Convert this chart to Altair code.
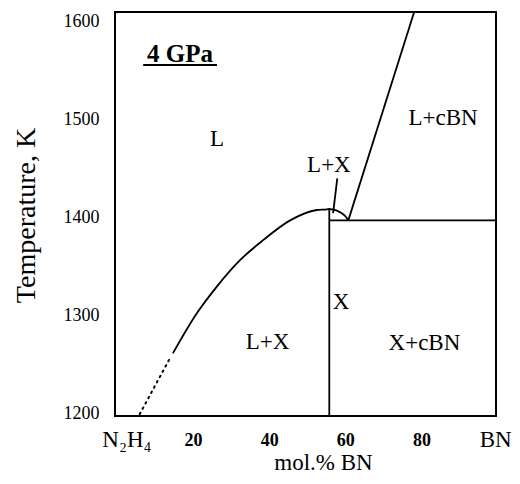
import altair as alt
import pandas as pd

# liquidus curve (solid part), mol.% BN vs temperature K
liq_x = [14.7, 21.0, 26.2, 32.4, 38.5, 45.5, 52.5, 55.2, 55.8, 56.5, 57.8, 59.1, 60.0, 60.8]
liq_t = [1261, 1302, 1329, 1356.5, 1377, 1397, 1407.6, 1408.3, 1408.6, 1408.3, 1407, 1404.2, 1401.4, 1397]
# dotted extrapolation
dot_x = [6.0, 14.0]
dot_t = [1199, 1256.5]

# straight phase boundaries: vertical X line, eutectic horizontal, cBN liquidus, leader
seg_x1 = [55.8, 55.8, 60.8, 57.9]
seg_t1 = [1197, 1397, 1397, 1440]
seg_x2 = [55.8, 99.6, 78.1, 56.8]
seg_t2 = [1408.6, 1397, 1610, 1404.5]

# region labels
lab_text = ["L", "L+X", "L+cBN", "L+X", "X", "X+cBN"]
lab_x = [26.3, 55.7, 85.7, 39.6, 58.9, 80.8]
lab_t = [1480.6, 1453.5, 1502, 1273, 1313.6, 1272]

# pressure label and its underline
p_text = ["4 GPa"]
p_x = [16.6]
p_t = [1567]
ul_x1 = [6.9]
ul_x2 = [26.3]
ul_t = [1555.7]

# axis end labels
end_text = ["N\u2082H\u2084", "BN"]
end_x = [2.65, 99.5]
end_t = [1172, 1172]

x_ticks = [20, 40, 60, 80]
y_ticks = [1200, 1300, 1400, 1500, 1600]

FONT = "Liberation Serif"

xscale = alt.Scale(domain=[-0.5, 99.6], nice=False, zero=False)
yscale = alt.Scale(domain=[1197, 1610], nice=False, zero=False)
xaxis = alt.Axis(values=x_ticks, format="d", grid=False, ticks=False, domain=False,
                 labelFont=FONT, labelFontSize=18, labelFontWeight="bold",
                 labelPadding=15, labelColor="black",
                 title="mol.% BN", titleFont=FONT, titleFontSize=23,
                 titleFontWeight="normal", titleColor="black",
                 titleX=208, titleY=53, titleAlign="center", titleBaseline="alphabetic")
yaxis = alt.Axis(values=y_ticks, format="d", grid=False, ticks=False, domain=False,
                 labelFont=FONT, labelFontSize=18, labelPadding=16, labelColor="black",
                 title="Temperature, K", titleFont=FONT, titleFontSize=28,
                 titleFontWeight="normal", titleColor="black", titleAngle=270,
                 titleX=-81, titleY=203, titleAlign="center", titleBaseline="alphabetic")

def X(f="x"):
    return alt.X(f + ":Q", scale=xscale, axis=xaxis)

def Y(f="t"):
    return alt.Y(f + ":Q", scale=yscale, axis=yaxis)

liq = pd.DataFrame({"x": liq_x, "t": liq_t})
dot = pd.DataFrame({"x": dot_x, "t": dot_t})
seg = pd.DataFrame({"x": seg_x1, "t": seg_t1, "x2": seg_x2, "t2": seg_t2})
lab = pd.DataFrame({"x": lab_x, "t": lab_t, "label": lab_text})
pl = pd.DataFrame({"x": p_x, "t": p_t, "label": p_text})
ul = pd.DataFrame({"x": ul_x1, "x2": ul_x2, "t": ul_t})
ends = pd.DataFrame({"x": end_x, "t": end_t, "label": end_text})

l_liq = alt.Chart(liq).mark_line(color="black", strokeWidth=1.8, interpolate="monotone").encode(
    x=X(), y=Y())
l_dot = alt.Chart(dot).mark_line(color="black", strokeWidth=2, strokeDash=[1.5, 4.5], strokeCap="round").encode(
    x=X(), y=Y())
l_seg = alt.Chart(seg).mark_rule(color="black", strokeWidth=1.8).encode(
    x=X(), y=Y(), x2="x2:Q", y2="t2:Q")
l_lab = alt.Chart(lab).mark_text(font=FONT, fontSize=23, color="black", baseline="middle").encode(
    x=X(), y=Y(), text="label:N")
l_p = alt.Chart(pl).mark_text(font=FONT, fontSize=25, fontWeight="bold", color="black", baseline="middle").encode(
    x=X(), y=Y(), text="label:N")
l_ul = alt.Chart(ul).mark_rule(color="black", strokeWidth=2).encode(
    x=X(), x2="x2:Q", y=Y())
l_end = alt.Chart(ends).mark_text(font=FONT, fontSize=23, color="black", baseline="middle").encode(
    x=X(), y=Y(), text="label:N")

chart = alt.layer(l_liq, l_dot, l_seg, l_lab, l_p, l_ul, l_end).properties(
    width=381, height=404,
    background="white",
    autosize=alt.AutoSizeParams(type="none"),
    padding={"left": 107, "top": 4, "right": 16, "bottom": 60},
).configure_view(stroke="black", strokeWidth=2)

chart.save("out.html", embed_options={"renderer": "svg", "actions": False})
